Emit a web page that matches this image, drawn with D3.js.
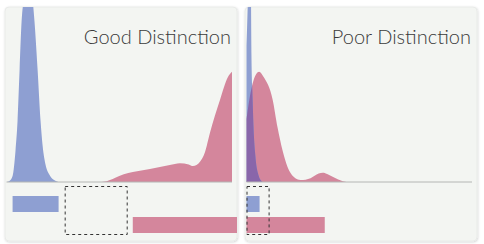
<!DOCTYPE html>
<html><head><meta charset="utf-8">
<script src="https://cdn.jsdelivr.net/npm/d3@7"></script>
<style>html,body{margin:0;padding:0;background:#fff;}svg{display:block;}</style>
</head><body>
<script>
// ---- data ----
const panelTitles = ["Good Distinction", "Poor Distinction"];
// density curves: [score, density]
const goodBlue = [[0,0],[1.3,0.6],[2.7,3.4],[4,18],[4.9,35],[5.8,64],[6.7,92],[7.6,104],[9.6,120],[11.6,104],[12.4,92],[13.8,64],[15.1,35],[16,21],[17.3,10],[19.1,4],[21.3,1],[23.6,0],[100,0]];
const goodPink = [[0,0],[40,0],[44.4,0.5],[48,2.3],[52,4.5],[56,5.7],[63.6,7.4],[72.4,9.7],[76.9,10.7],[80.8,10],[82.7,9.1],[85.8,11.6],[88,17],[90.2,28],[94.7,47],[98.2,60],[100,63]];
const poorBlue = [[0,78],[0.9,120],[1.6,170],[2.2,72],[2.7,48],[3.1,32],[4,14],[5.3,4],[6.7,0.5],[7.5,0],[100,0]];
const poorPink = [[0,36],[1.8,51],[3.1,58],[5.6,63],[7.6,60],[11.6,47],[13.8,31],[16,18],[18.2,8.6],[20.9,3],[24,1.1],[28.4,2.2],[32,4.8],[33.8,5.3],[36,4.5],[38.2,3],[42.7,0.5],[46,0],[100,0]];
// ranges: [start, end]
const goodBlueRange = [2.7, 23.1];
const goodGap = [25.8, 53.3];
const goodPinkRange = [56, 103];
const poorBlueRange = [0, 5.8];
const poorGap = [0, 9.8];
const poorPinkRange = [0, 34.7];

const panels = [
  {title: panelTitles[0], blue: goodBlue, pink: goodPink, blueR: goodBlueRange, gap: goodGap, pinkR: goodPinkRange, x0: 5},
  {title: panelTitles[1], blue: poorBlue, pink: poorPink, blueR: poorBlueRange, gap: poorGap, pinkR: poorPinkRange, x0: 245}
];

const W = 484, H = 244;
const svg = d3.select("body").append("svg").attr("width", W).attr("height", H);
const defs = svg.append("defs");
const f = defs.append("filter").attr("id","sh").attr("x","-5%").attr("y","-5%").attr("width","110%").attr("height","110%");
f.append("feDropShadow").attr("dx",0.5).attr("dy",0.8).attr("stdDeviation",0.8).attr("flood-color","#000").attr("flood-opacity",0.18);

const cardW = 232, cardH = 234, cardY = 7;
const BLUE = "#8e9fd2", PINK = "#d4869c", PURPLE = "#8966aa";

panels.forEach((p, i) => {
  const g = svg.append("g").attr("transform", `translate(${p.x0},${cardY})`);
  g.append("rect").attr("width", cardW).attr("height", cardH).attr("rx", 4)
    .attr("fill", "#f3f5f2").attr("stroke", "#e6e8e6").attr("stroke-width", 0.8).attr("filter", "url(#sh)");
  const clipId = "clip" + i;
  defs.append("clipPath").attr("id", clipId).append("rect").attr("width", cardW).attr("height", cardH).attr("rx", 4)
    .attr("transform", `translate(${p.x0},${cardY})`);
  const inner = svg.append("g").attr("clip-path", `url(#${clipId})`);

  const x = d3.scaleLinear().domain([0, 100]).range([p.x0 + 1.5, p.x0 + 227]);
  const y = d3.scaleLinear().domain([0, 100]).range([182, 7]);
  const area = d3.area().x(d => x(d[0])).y0(y(0)).y1(d => y(d[1])).curve(d3.curveMonotoneX);

  const pinkPath = area(p.pink);
  inner.append("path").attr("d", pinkPath).attr("fill", PINK);
  inner.append("path").attr("d", area(p.blue)).attr("fill", BLUE);
  const ov = "ov" + i;
  defs.append("clipPath").attr("id", ov).append("path").attr("d", pinkPath);
  inner.append("g").attr("clip-path", `url(#${ov})`).append("path").attr("d", area(p.blue)).attr("fill", PURPLE);

  inner.append("line").attr("x1", x(0)).attr("x2", x(100)).attr("y1", y(0)).attr("y2", y(0))
    .attr("stroke", "#b4b6b4").attr("stroke-width", 1);

  // range bars
  inner.append("rect").attr("x", x(p.blueR[0])).attr("width", x(p.blueR[1]) - x(p.blueR[0]))
    .attr("y", 196).attr("height", 16).attr("fill", BLUE);
  inner.append("rect").attr("x", x(p.pinkR[0])).attr("width", x(p.pinkR[1]) - x(p.pinkR[0]))
    .attr("y", 217).attr("height", 16).attr("fill", PINK);
  inner.append("rect").attr("x", x(p.gap[0]) + 0.5).attr("width", x(p.gap[1]) - x(p.gap[0]))
    .attr("y", 186.5).attr("height", 48).attr("fill", "none")
    .attr("stroke", "#333").attr("stroke-width", 1).attr("stroke-dasharray", "3,3");

  svg.append("text").attr("x", x(100) - 1).attr("y", 44).attr("text-anchor", "end")
    .attr("font-family", "Lato, 'Open Sans', sans-serif").attr("font-weight", 300).attr("font-size", 20).attr("fill", "#3a3a3a")
    .text(p.title);
});
</script>
</body></html>
